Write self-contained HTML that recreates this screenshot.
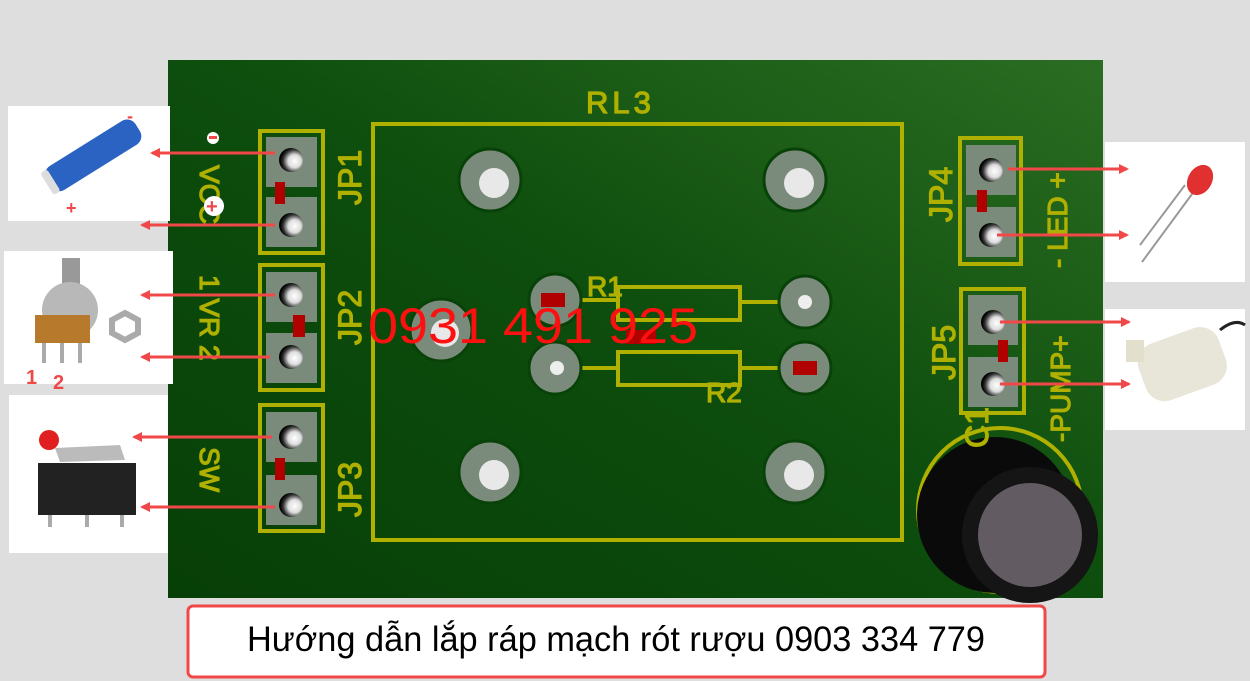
<!DOCTYPE html>
<html><head><meta charset="utf-8"><style>html,body{margin:0;padding:0;background:#dedede}svg{display:block}</style></head>
<body>
<svg width="1250" height="681" viewBox="0 0 1250 681" xmlns="http://www.w3.org/2000/svg" font-family="Liberation Sans, sans-serif">
<defs>
<linearGradient id="pcb" x1="0" y1="1" x2="1" y2="0">
<stop offset="0" stop-color="#073f07"/><stop offset="0.5" stop-color="#0d4d0d"/><stop offset="1" stop-color="#2b6d22"/>
</linearGradient>
<radialGradient id="pin" cx="0.65" cy="0.55" r="0.6"><stop offset="0" stop-color="#fff"/><stop offset="0.45" stop-color="#ddd"/><stop offset="0.8" stop-color="#333"/><stop offset="1" stop-color="#000"/></radialGradient>
<marker id="ah" markerWidth="10" markerHeight="10" refX="8" refY="5" orient="auto" markerUnits="userSpaceOnUse"><path d="M0,0 L10,5 L0,10 Z" fill="#f04848"/></marker>
</defs>
<rect width="1250" height="681" fill="#dedede"/>
<rect x="168" y="60" width="935" height="538" fill="url(#pcb)"/>
<!-- photos -->
<rect x="8" y="106" width="162" height="115" fill="#fff"/>
<rect x="4" y="251" width="169" height="133" fill="#fff"/>
<rect x="9" y="395" width="159" height="158" fill="#fff"/>
<rect x="1105" y="142" width="140" height="140" fill="#fff"/>
<rect x="1105" y="309" width="140" height="121" fill="#fff"/>
<!-- battery -->
<g transform="rotate(-32 90 155)"><rect x="40" y="143" width="105" height="28" rx="10" fill="#2a63c2"/><rect x="38" y="144" width="8" height="26" rx="3" fill="#ddd"/></g>
<text x="127" y="122" fill="#f04848" font-size="18" font-weight="bold">-</text>
<text x="66" y="214" fill="#f04848" font-size="18" font-weight="bold">+</text>
<!-- pot -->
<rect x="62" y="258" width="18" height="45" fill="#999"/>
<circle cx="70" cy="310" r="28" fill="#b8b8b8"/>
<rect x="35" y="315" width="55" height="28" fill="#b77a2c"/>
<rect x="42" y="343" width="4" height="20" fill="#aaa"/><rect x="60" y="343" width="4" height="20" fill="#aaa"/><rect x="78" y="343" width="4" height="20" fill="#aaa"/>
<polygon points="112,320 125,313 138,320 138,333 125,340 112,333" fill="none" stroke="#aaa" stroke-width="6"/>
<text x="26" y="384" fill="#f04848" font-size="20" font-weight="bold">1</text>
<text x="53" y="389" fill="#f04848" font-size="20" font-weight="bold">2</text>
<!-- switch -->
<circle cx="49" cy="440" r="10" fill="#e02020"/>
<polygon points="55,448 120,445 125,460 60,462" fill="#bbb"/>
<rect x="38" y="463" width="98" height="52" fill="#222"/>
<rect x="48" y="515" width="4" height="12" fill="#aaa"/><rect x="85" y="515" width="4" height="12" fill="#aaa"/><rect x="120" y="515" width="4" height="12" fill="#aaa"/>
<!-- LED -->
<line x1="1140" y1="245" x2="1185" y2="185" stroke="#999" stroke-width="2"/>
<line x1="1142" y1="262" x2="1195" y2="190" stroke="#999" stroke-width="2"/>
<ellipse cx="1200" cy="180" rx="12" ry="16" fill="#e03030" transform="rotate(30 1200 180)"/>
<!-- pump -->
<g transform="rotate(-20 1180 365)"><rect x="1140" y="335" width="85" height="60" rx="20" fill="#e8e6d8"/></g>
<rect x="1126" y="340" width="18" height="22" fill="#e2e0cc"/>
<path d="M1220,330 Q1235,318 1245,325" stroke="#222" stroke-width="3" fill="none"/>
<!-- connector boxes -->
<g fill="none" stroke="#b0b000" stroke-width="4">
<rect x="260" y="131" width="63" height="122"/>
<rect x="260" y="265" width="63" height="125"/>
<rect x="260" y="405" width="63" height="126"/>
<rect x="960" y="138" width="61" height="126"/>
<rect x="961" y="289" width="63" height="124"/>
<rect x="373" y="124" width="529" height="416"/>
<rect x="618" y="287" width="122" height="33"/>
<rect x="618" y="352" width="122" height="33"/>
</g>
<g stroke="#b0b000" stroke-width="4">
<line x1="580" y1="300" x2="618" y2="300"/><line x1="740" y1="302" x2="780" y2="302"/>
<line x1="580" y1="368" x2="618" y2="368"/><line x1="740" y1="368" x2="780" y2="368"/>
</g>
<g fill="#7b8b7b">
<rect x="266" y="137" width="51" height="50"/><rect x="266" y="197" width="51" height="50"/>
<rect x="266" y="272" width="51" height="50"/><rect x="266" y="333" width="51" height="50"/>
<rect x="266" y="412" width="51" height="50"/><rect x="266" y="475" width="51" height="50"/>
<rect x="966" y="145" width="50" height="50"/><rect x="966" y="207" width="50" height="50"/>
<rect x="968" y="295" width="50" height="50"/><rect x="968" y="357" width="50" height="50"/>
</g>
<g fill="url(#pin)">
<circle cx="291" cy="160" r="12"/><circle cx="291" cy="225" r="12"/>
<circle cx="291" cy="295" r="12"/><circle cx="291" cy="357" r="12"/>
<circle cx="291" cy="437" r="12"/><circle cx="291" cy="505" r="12"/>
<circle cx="991" cy="170" r="12"/><circle cx="991" cy="235" r="12"/>
<circle cx="993" cy="322" r="12"/><circle cx="993" cy="384" r="12"/>
</g>
<g fill="#b00000">
<rect x="275" y="182" width="10" height="22"/><rect x="293" y="315" width="12" height="22"/>
<rect x="275" y="458" width="10" height="22"/><rect x="977" y="190" width="10" height="22"/>
<rect x="998" y="340" width="10" height="22"/>
</g>
<!-- relay holes -->
<g>
<circle cx="490" cy="180" r="31" fill="#7b8b7b" stroke="#084208" stroke-width="3"/><circle cx="494" cy="183" r="15" fill="#e8e8e8"/>
<circle cx="795" cy="180" r="31" fill="#7b8b7b" stroke="#084208" stroke-width="3"/><circle cx="799" cy="183" r="15" fill="#e8e8e8"/>
<circle cx="490" cy="472" r="31" fill="#7b8b7b" stroke="#084208" stroke-width="3"/><circle cx="494" cy="475" r="15" fill="#e8e8e8"/>
<circle cx="795" cy="472" r="31" fill="#7b8b7b" stroke="#084208" stroke-width="3"/><circle cx="799" cy="475" r="15" fill="#e8e8e8"/>
<circle cx="441" cy="330" r="31" fill="#7b8b7b" stroke="#084208" stroke-width="3"/><circle cx="445" cy="333" r="14" fill="#e8e8e8"/>
<circle cx="555" cy="300" r="26" fill="#7b8b7b" stroke="#084208" stroke-width="3"/>
<circle cx="555" cy="368" r="26" fill="#7b8b7b" stroke="#084208" stroke-width="3"/><circle cx="557" cy="368" r="7" fill="#eee"/>
<circle cx="805" cy="302" r="26" fill="#7b8b7b" stroke="#084208" stroke-width="3"/><circle cx="805" cy="302" r="7" fill="#eee"/>
<circle cx="805" cy="368" r="26" fill="#7b8b7b" stroke="#084208" stroke-width="3"/>
<rect x="541" y="293" width="24" height="14" fill="#b00000"/><rect x="793" y="361" width="24" height="14" fill="#b00000"/>
<rect x="626" y="330" width="30" height="14" fill="#b00000"/>
</g>
<!-- capacitor -->
<circle cx="1000" cy="510" r="82" fill="none" stroke="#b0b000" stroke-width="4"/>
<ellipse cx="995" cy="515" rx="78" ry="78" fill="#0a0a0a"/>
<circle cx="1030" cy="535" r="68" fill="#151515"/>
<circle cx="1030" cy="535" r="52" fill="#625c62"/>
<!-- yellow texts -->
<g fill="#b0b000" stroke="#b0b000" stroke-width="1.2" font-size="32">
<text x="586" y="113" font-size="31" letter-spacing="4">RL3</text>
<text x="587" y="296" font-size="28">R1</text>
<text x="706" y="402" font-size="28">R2</text>
<text transform="translate(361,205) rotate(-90)">JP1</text>
<text transform="translate(361,345) rotate(-90)">JP2</text>
<text transform="translate(361,517) rotate(-90)">JP3</text>
<text transform="translate(952,222) rotate(-90)">JP4</text>
<text transform="translate(955,380) rotate(-90)">JP5</text>
<text transform="translate(988,448) rotate(-90)">C1</text>
<text font-size="28" transform="translate(200,165) rotate(90)">VCC</text>
<text font-size="28" transform="translate(200,275) rotate(90)">1 VR 2</text>
<text font-size="28" transform="translate(200,447) rotate(90)">SW</text>
<text font-size="28" transform="translate(1067,268) rotate(-90)">- LED +</text>
<text font-size="28" transform="translate(1070,442) rotate(-90)">-PUMP+</text>
</g>
<circle cx="213" cy="138" r="6" fill="#fff"/><rect x="209" y="136" width="8" height="3" fill="#f04848"/>
<circle cx="214" cy="206" r="10" fill="#fff"/><text x="206" y="213" fill="#f04848" font-size="20" font-weight="bold">+</text>
<text x="368" y="343" fill="#ff1010" font-size="50" textLength="330" lengthAdjust="spacingAndGlyphs">0931 491 925</text>
<!-- arrows -->
<g stroke="#f04848" stroke-width="3" marker-end="url(#ah)">
<line x1="275" y1="153" x2="152" y2="153"/>
<line x1="275" y1="225" x2="142" y2="225"/>
<line x1="275" y1="295" x2="142" y2="295"/>
<line x1="270" y1="357" x2="142" y2="357"/>
<line x1="272" y1="437" x2="134" y2="437"/>
<line x1="275" y1="507" x2="142" y2="507"/>
<line x1="1008" y1="169" x2="1127" y2="169"/>
<line x1="997" y1="235" x2="1127" y2="235"/>
<line x1="1000" y1="322" x2="1129" y2="322"/>
<line x1="1000" y1="384" x2="1129" y2="384"/>
</g>
<!-- bottom label -->
<rect x="188" y="606" width="857" height="71" rx="5" fill="#fff" stroke="#f04848" stroke-width="3"/>
<text x="247" y="651" font-size="35" fill="#000" textLength="738" lengthAdjust="spacingAndGlyphs">Hướng dẫn lắp ráp mạch rót rượu 0903 334 779</text>
</svg>
</body></html>
